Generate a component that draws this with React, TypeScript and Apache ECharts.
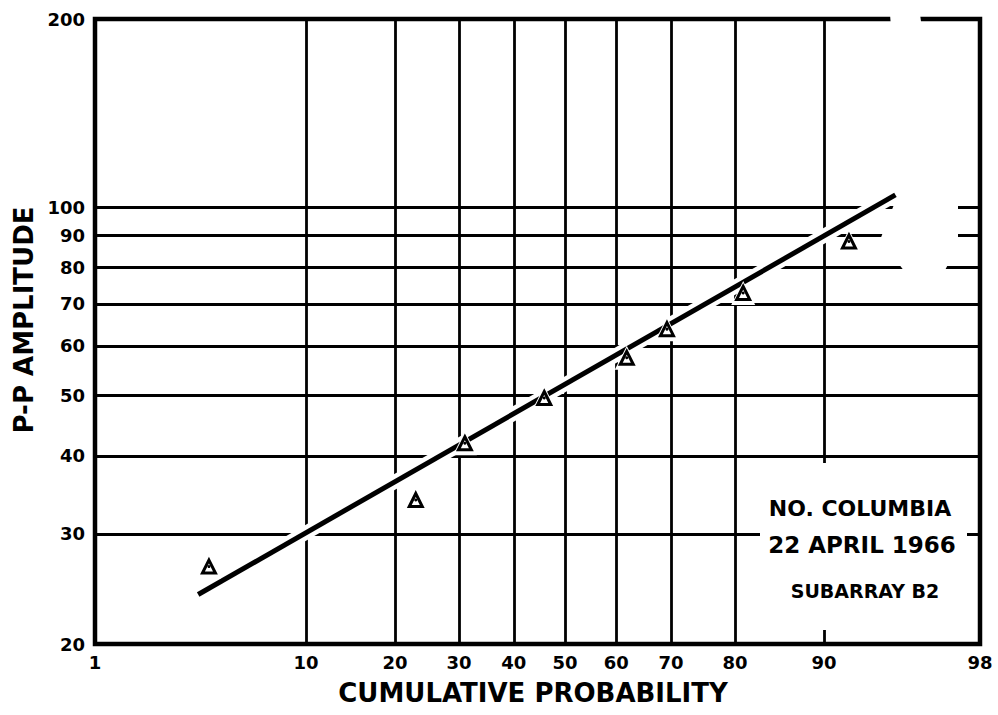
import React, { useEffect, useRef } from "react";
import * as echarts from "echarts";

// ---- data ----
const xTickProbs = [1, 10, 20, 30, 40, 50, 60, 70, 80, 90, 98];
const yTickValues = [20, 30, 40, 50, 60, 70, 80, 90, 100, 200];
const obsProb = [3.9, 23.0, 31.0, 45.9, 62.0, 69.3, 81.1, 92.0];
const obsAmp = [26.6, 34.0, 41.9, 49.5, 57.4, 63.8, 72.9, 88.1];
const fitProb = [3.47, 94.9];
const fitAmp = [24.0, 104.6];
const xAxisTitle = "CUMULATIVE PROBABILITY";
const yAxisTitle = "P-P AMPLITUDE";
const noteLines = ["NO. COLUMBIA", "22 APRIL 1966", "SUBARRAY B2"];

const FONT = '"DejaVu Sans", "Liberation Sans", sans-serif';

// inverse normal CDF (Acklam)
function probit(p: number): number {
  const a = [-3.969683028665376e1, 2.209460984245205e2, -2.759285104469687e2, 1.38357751867269e2, -3.066479806614716e1, 2.506628277459239];
  const b = [-5.447609879822406e1, 1.615858368580409e2, -1.556989798598866e2, 6.680131188771972e1, -1.328068155288572e1];
  const c = [-7.784894002430293e-3, -3.223964580411365e-1, -2.400758277161838, -2.549732539343734, 4.374664141464968, 2.938163982698783];
  const d = [7.784695709041462e-3, 3.224671290700398e-1, 2.445134137142996, 3.754408661907416];
  const plow = 0.02425;
  const phigh = 1 - plow;
  let q: number, r: number;
  if (p < plow) {
    q = Math.sqrt(-2 * Math.log(p));
    return (((((c[0] * q + c[1]) * q + c[2]) * q + c[3]) * q + c[4]) * q + c[5]) / ((((d[0] * q + d[1]) * q + d[2]) * q + d[3]) * q + 1);
  }
  if (p <= phigh) {
    q = p - 0.5;
    r = q * q;
    return ((((((a[0] * r + a[1]) * r + a[2]) * r + a[3]) * r + a[4]) * r + a[5]) * q) / (((((b[0] * r + b[1]) * r + b[2]) * r + b[3]) * r + b[4]) * r + 1);
  }
  q = Math.sqrt(-2 * Math.log(1 - p));
  return -(((((c[0] * q + c[1]) * q + c[2]) * q + c[3]) * q + c[4]) * q + c[5]) / ((((d[0] * q + d[1]) * q + d[2]) * q + d[3]) * q + 1);
}
const z = (pct: number) => probit(pct / 100);

export default function App() {
  const ref = useRef<HTMLDivElement>(null);

  useEffect(() => {
    if (!ref.current) return;
    const chart = echarts.init(ref.current, undefined, { renderer: "svg" });

    const xTickZ = xTickProbs.map(z);
    const xLabel = (v: number) => {
      for (let i = 0; i < xTickZ.length; i++) {
        if (Math.abs(xTickZ[i] - v) < 1e-6) return String(xTickProbs[i]);
      }
      return "";
    };
    const obsData = obsProb.map((p, i) => [z(p), obsAmp[i]]);
    const fitData = fitProb.map((p, i) => [z(p), fitAmp[i]]);

    const textStyle = (text: string, size: number) => ({
      text,
      font: `bold ${size}px ${FONT}`,
      fill: "#000",
      align: "center",
      verticalAlign: "middle",
      textAlign: "center",
      textVerticalAlign: "middle",
    });

    const option: any = {
      animation: false,
      backgroundColor: "#fff",
      grid: {
        left: 95,
        right: 18,
        top: 19,
        bottom: 71,
        show: true,
        borderColor: "#000",
        borderWidth: 4.5,
        backgroundColor: "transparent",
      },
      xAxis: {
        type: "value",
        min: z(xTickProbs[0]),
        max: z(xTickProbs[xTickProbs.length - 1]),
        axisLine: { show: false },
        axisTick: { show: false, customValues: xTickZ },
        axisLabel: {
          customValues: xTickZ,
          formatter: (v: number) => xLabel(v),
          color: "#000",
          fontFamily: FONT,
          fontWeight: "bold",
          fontSize: 18,
          margin: 9,
        },
        splitLine: { show: true, lineStyle: { color: "#000", width: 2.8 } },
      },
      yAxis: {
        type: "log",
        logBase: 10,
        min: yTickValues[0],
        max: yTickValues[yTickValues.length - 1],
        axisLine: { show: false },
        axisTick: { show: false, customValues: yTickValues },
        axisLabel: {
          customValues: yTickValues,
          formatter: (v: number) => String(Math.round(v)),
          color: "#000",
          fontFamily: FONT,
          fontWeight: "bold",
          fontSize: 18,
          margin: 10,
        },
        splitLine: { show: true, lineStyle: { color: "#000", width: 2.8 } },
      },
      series: [
        {
          type: "line",
          z: 2,
          data: fitData,
          symbol: "none",
          lineStyle: { color: "#fff", width: 14, opacity: 1 },
          silent: true,
        },
        {
          type: "line",
          z: 3,
          data: fitData,
          symbol: "none",
          lineStyle: { color: "#000", width: 5, opacity: 1 },
          silent: true,
        },
        {
          type: "scatter",
          z: 4,
          data: obsData,
          symbol: "triangle",
          symbolSize: 24,
          itemStyle: { color: "#fff", opacity: 1 },
          silent: true,
        },
        {
          type: "scatter",
          z: 5,
          data: obsData,
          symbol: "triangle",
          symbolSize: 13,
          itemStyle: { color: "#fff", borderColor: "#000", borderWidth: 3, opacity: 1 },
          silent: true,
        },
        {
          type: "scatter",
          z: 6,
          data: obsData,
          symbol: "circle",
          symbolSize: 3,
          itemStyle: { color: "#000", opacity: 1 },
          silent: true,
        },
      ],
      graphic: [
        {
          type: "polygon",
          z: 10,
          shape: {
            points: [
              [890, 14], [920, 14], [934, 120], [958, 188], [958, 246], [944, 272],
              [905, 272], [880, 240], [897, 197], [900, 150],
            ],
          },
          style: { fill: "#fff" },
        },
        {
          type: "rect",
          z: 10,
          shape: { x: 760, y: 463, width: 207, height: 167 },
          style: { fill: "#fff" },
        },
        { type: "text", z: 11, x: 860, y: 508, style: textStyle(noteLines[0], 22) },
        { type: "text", z: 11, x: 862, y: 545, style: textStyle(noteLines[1], 23) },
        { type: "text", z: 11, x: 865, y: 591, style: textStyle(noteLines[2], 19) },
        { type: "text", z: 11, x: 533, y: 693, style: textStyle(xAxisTitle, 26) },
        {
          type: "text",
          z: 11,
          x: 24,
          y: 320,
          rotation: Math.PI / 2,
          style: textStyle(yAxisTitle, 26),
        },
      ],
    };

    chart.setOption(option);
    return () => chart.dispose();
  }, []);

  return (
    <div
      ref={ref}
      style={{ position: "fixed", left: 0, top: 0, width: 998, height: 715, background: "#fff" }}
    />
  );
}
